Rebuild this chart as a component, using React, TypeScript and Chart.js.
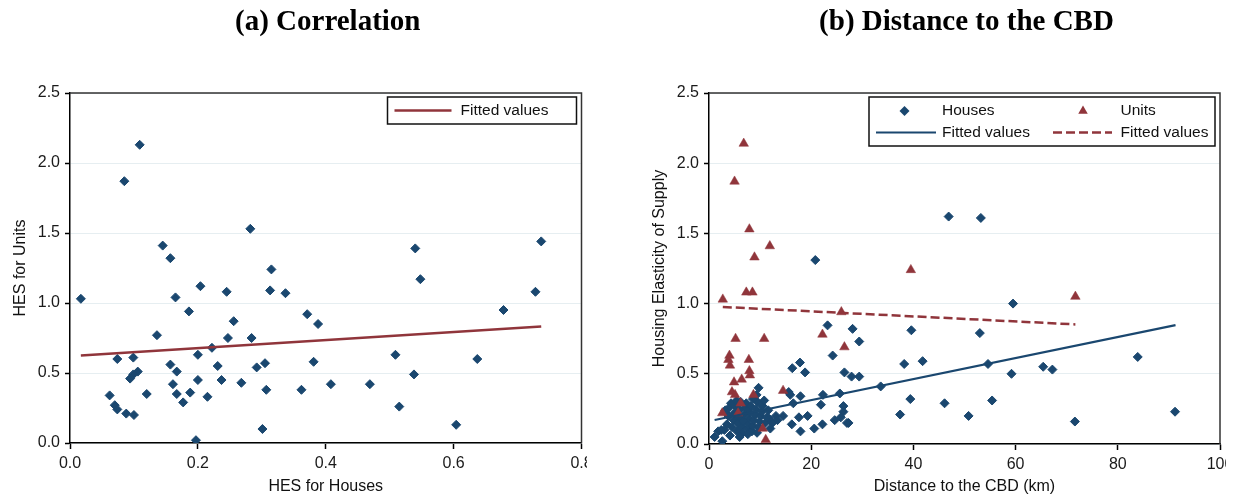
import React, { useEffect, useRef } from 'react';
import { Chart, registerables } from 'chart.js';

Chart.register(...registerables);

const NAVY = '#1a476f';
const MAROON = '#90353b';
const SANS = '"Liberation Sans", Arial, sans-serif';
const SERIF = '"Liberation Serif", "Times New Roman", serif';

// ---------- Panel (a): Correlation ----------
const corrTitle = '(a) Correlation';
const corrHousesHES = [0.017, 0.085, 0.109, 0.145, 0.157, 0.282, 0.315, 0.540, 0.737, 0.204, 0.165, 0.245, 0.186, 0.256, 0.136, 0.247, 0.284, 0.313, 0.337, 0.074, 0.099, 0.222, 0.200, 0.157, 0.167, 0.106, 0.099, 0.094, 0.231, 0.292, 0.305, 0.200, 0.237, 0.268, 0.161, 0.307, 0.062, 0.120, 0.167, 0.188, 0.215, 0.177, 0.070, 0.074, 0.088, 0.100, 0.301, 0.197, 0.362, 0.548, 0.728, 0.678, 0.371, 0.388, 0.381, 0.509, 0.637, 0.538, 0.408, 0.469, 0.515, 0.604];
const corrUnitsHES = [1.03, 1.87, 2.13, 1.41, 1.32, 1.53, 1.24, 1.39, 1.44, 1.12, 1.04, 1.08, 0.94, 0.87, 0.77, 0.75, 0.75, 1.09, 1.07, 0.60, 0.61, 0.68, 0.63, 0.56, 0.51, 0.51, 0.49, 0.46, 0.55, 0.54, 0.57, 0.45, 0.45, 0.43, 0.42, 0.38, 0.34, 0.35, 0.35, 0.36, 0.33, 0.29, 0.27, 0.24, 0.21, 0.20, 0.10, 0.02, 0.38, 1.17, 1.08, 0.95, 0.92, 0.85, 0.58, 0.63, 0.60, 0.49, 0.42, 0.42, 0.26, 0.13];
const corrFitX = [0.017, 0.737];
const corrFitY = [0.625, 0.832];
const corrXTicks = [0, 0.2, 0.4, 0.6, 0.8];
const corrXTickLabels = ['0.0', '0.2', '0.4', '0.6', '0.8'];
const corrXTitle = 'HES for Houses';
const corrYTitle = 'HES for Units';
const corrLegendLabel = 'Fitted values';

const hesYTicks = [0, 0.5, 1, 1.5, 2, 2.5];
const hesYTickLabels = ['0.0', '0.5', '1.0', '1.5', '2.0', '2.5'];

// ---------- Panel (b): Distance to the CBD ----------
const distTitle = '(b) Distance to the CBD';
const housesDist = [20.8, 46.9, 53.2, 59.5, 28.1, 29.4, 39.6, 53.0, 83.9, 38.2, 41.8, 54.6, 65.4, 67.2, 59.2, 27.9, 29.4, 33.6, 39.4, 46.1, 55.4, 37.4, 50.8, 71.6, 91.2, 27.3,
  23.2, 16.3, 17.8, 18.8, 24.2, 26.5, 9.7, 15.6, 15.9, 16.5, 17.9, 22.3, 25.6, 26.3, 26.3, 21.9, 19.3, 17.6, 14.5, 16.2, 17.9, 20.6, 22.2, 24.6, 25.8, 27.0, 13.1, 13.4, 12.4, 11.8, 1.1, 2.6, 1.8,
  3.0, 3.5, 3.8, 4.0, 4.3, 4.5, 4.8, 5.0, 5.2, 5.5, 5.6, 5.9, 6.0, 6.2, 6.4, 6.6, 6.8, 7.0, 7.1, 7.3, 7.5, 7.7, 7.9, 8.0, 8.2, 8.4, 8.6, 8.8, 9.0, 9.2, 9.5, 9.7, 9.9, 10.1, 10.3, 10.5, 10.8, 11.0, 11.3, 11.6, 12.0, 3.2, 2.4, 4.1, 6.0, 7.6, 9.4, 5.4, 8.6, 9.3];
const housesHES = [1.31, 1.62, 1.61, 1.00, 0.82, 0.73, 0.81, 0.79, 0.62, 0.57, 0.59, 0.57, 0.55, 0.53, 0.50, 0.48, 0.48, 0.41, 0.32, 0.29, 0.31, 0.21, 0.20, 0.16, 0.23, 0.15,
  0.845, 0.54, 0.58, 0.51, 0.63, 0.51, 0.40, 0.37, 0.35, 0.29, 0.34, 0.35, 0.36, 0.27, 0.23, 0.28, 0.20, 0.19, 0.20, 0.14, 0.09, 0.11, 0.14, 0.17, 0.19, 0.15, 0.20, 0.17, 0.15, 0.18, 0.05, 0.02, 0.09,
  0.10, 0.14, 0.20, 0.26, 0.29, 0.12, 0.17, 0.22, 0.27, 0.09, 0.15, 0.19, 0.24, 0.30, 0.12, 0.08, 0.16, 0.21, 0.26, 0.29, 0.11, 0.14, 0.18, 0.23, 0.27, 0.09, 0.13, 0.17, 0.21, 0.25, 0.30, 0.12, 0.16, 0.20, 0.23, 0.27, 0.31, 0.15, 0.19, 0.24, 0.11, 0.24, 0.10, 0.06, 0.05, 0.07, 0.08, 0.31, 0.32, 0.35];
const unitsDist = [6.8, 5.0, 7.9, 11.9, 8.9, 7.3, 8.5, 2.7, 25.9, 39.5, 71.7, 5.2, 10.8, 22.2, 26.5, 4.0, 3.8, 4.1, 7.8, 7.9, 8.0, 6.4, 4.9, 4.5, 5.1, 8.7, 14.5, 6.2, 2.6, 5.7, 10.5, 11.1];
const unitsHES = [2.14, 1.87, 1.53, 1.41, 1.33, 1.08, 1.08, 1.03, 0.94, 1.24, 1.05, 0.75, 0.75, 0.78, 0.69, 0.63, 0.60, 0.56, 0.60, 0.52, 0.49, 0.46, 0.44, 0.37, 0.35, 0.35, 0.38, 0.29, 0.22, 0.22, 0.11, 0.03];
const housesFitX = [1.1, 91.3];
const housesFitY = [0.171, 0.847];
const unitsFitX = [2.7, 71.7];
const unitsFitY = [0.976, 0.852];
const distXTicks = [0, 20, 40, 60, 80, 100];
const distXTickLabels = ['0', '20', '40', '60', '80', '100'];
const distXTitle = 'Distance to the CBD (km)';
const distYTitle = 'Housing Elasticity of Supply';
const distLegendLabels = ['Houses', 'Units', 'Fitted values', 'Fitted values'];

const pts = (xs: number[], ys: number[]) => xs.map((x, i) => ({ x, y: ys[i] }));

function xScale(min: number, max: number, ticks: number[], labels: string[], title: string, h: number) {
  return {
    type: 'linear',
    min,
    max,
    afterBuildTicks: (s: any) => { s.ticks = ticks.map((v) => ({ value: v })); },
    afterFit: (s: any) => { s.height = h; s.paddingLeft = 0; s.paddingRight = 0; },
    ticks: {
      callback: (_v: any, i: number) => labels[i],
      font: { family: SANS, size: 16 },
      color: '#1a1a1a',
      padding: 5,
      maxRotation: 0,
      autoSkip: false,
    },
    grid: { drawOnChartArea: false, tickLength: 6, tickColor: '#000', tickWidth: 1.5, color: 'rgba(0,0,0,0)' },
    border: { display: true, color: '#000', width: 1.5 },
    title: { display: true, text: title, font: { family: SANS, size: 16 }, color: '#111', padding: { top: 0, bottom: 4 } },
  };
}

function yScale(title: string, w: number, titlePad: number) {
  return {
    type: 'linear',
    min: 0,
    max: 2.5,
    afterBuildTicks: (s: any) => { s.ticks = hesYTicks.map((v) => ({ value: v })); },
    afterFit: (s: any) => { s.width = w; s.paddingTop = 0; s.paddingBottom = 0; },
    ticks: {
      callback: (_v: any, i: number) => hesYTickLabels[i],
      font: { family: SANS, size: 16 },
      color: '#1a1a1a',
      padding: 5,
      autoSkip: false,
    },
    grid: { drawOnChartArea: true, tickLength: 5, tickColor: '#000', tickWidth: 1.5, color: '#e6eef1', lineWidth: 1 },
    border: { display: true, color: '#000', width: 1.5 },
    title: { display: true, text: title, font: { family: SANS, size: 16 }, color: '#111', padding: { top: titlePad, bottom: 0 } },
  };
}

function diamond(ctx: CanvasRenderingContext2D, x: number, y: number, r: number) {
  ctx.beginPath();
  ctx.moveTo(x - r, y);
  ctx.lineTo(x, y - r);
  ctx.lineTo(x + r, y);
  ctx.lineTo(x, y + r);
  ctx.closePath();
  ctx.fill();
}
function triangle(ctx: CanvasRenderingContext2D, x: number, y: number, r: number) {
  ctx.beginPath();
  ctx.moveTo(x, y - r);
  ctx.lineTo(x + r * 0.866, y + r * 0.5);
  ctx.lineTo(x - r * 0.866, y + r * 0.5);
  ctx.closePath();
  ctx.fill();
}

function decoPlugin(title: string, drawLegend: (ctx: CanvasRenderingContext2D, ca: any) => void) {
  return {
    id: 'deco',
    afterDraw(chart: any) {
      const ctx = chart.ctx as CanvasRenderingContext2D;
      const ca = chart.chartArea;
      ctx.save();
      // top & right frame
      ctx.strokeStyle = '#333';
      ctx.lineWidth = 1.5;
      ctx.beginPath();
      ctx.moveTo(ca.left, ca.top);
      ctx.lineTo(ca.right, ca.top);
      ctx.lineTo(ca.right, ca.bottom);
      ctx.stroke();
      // title
      ctx.fillStyle = '#000';
      ctx.font = `bold 29px ${SERIF}`;
      ctx.textAlign = 'center';
      ctx.textBaseline = 'middle';
      ctx.fillText(title, (ca.left + ca.right) / 2 + 2, 23);
      drawLegend(ctx, ca);
      ctx.restore();
    },
  };
}

function legendA(ctx: CanvasRenderingContext2D, ca: any) {
  const right = ca.right - 5;
  const left = right - 189;
  const top = ca.top + 4;
  const h = 27;
  ctx.fillStyle = '#fff';
  ctx.fillRect(left, top, right - left, h);
  ctx.strokeStyle = '#111';
  ctx.lineWidth = 1.5;
  ctx.strokeRect(left, top, right - left, h);
  const cy = top + h / 2;
  ctx.strokeStyle = MAROON;
  ctx.lineWidth = 2.5;
  ctx.beginPath();
  ctx.moveTo(left + 7, cy);
  ctx.lineTo(left + 64, cy);
  ctx.stroke();
  ctx.fillStyle = '#111';
  ctx.font = `15.5px ${SANS}`;
  ctx.textAlign = 'left';
  ctx.textBaseline = 'middle';
  ctx.fillText(corrLegendLabel, left + 73, cy);
}

function legendB(ctx: CanvasRenderingContext2D, ca: any) {
  const right = ca.right - 5;
  const left = right - 346;
  const top = ca.top + 4;
  const h = 49;
  ctx.fillStyle = '#fff';
  ctx.fillRect(left, top, right - left, h);
  ctx.strokeStyle = '#111';
  ctx.lineWidth = 1.5;
  ctx.strokeRect(left, top, right - left, h);
  const y1 = top + 14;
  const y2 = top + 35.5;
  ctx.fillStyle = NAVY;
  diamond(ctx, left + 35.5, y1, 5);
  ctx.fillStyle = MAROON;
  triangle(ctx, left + 214, y1, 5.5);
  ctx.strokeStyle = NAVY;
  ctx.lineWidth = 2.2;
  ctx.beginPath();
  ctx.moveTo(left + 7, y2);
  ctx.lineTo(left + 67, y2);
  ctx.stroke();
  ctx.strokeStyle = MAROON;
  ctx.lineWidth = 2.5;
  ctx.setLineDash([9, 4]);
  ctx.beginPath();
  ctx.moveTo(left + 184, y2);
  ctx.lineTo(left + 243, y2);
  ctx.stroke();
  ctx.setLineDash([]);
  ctx.fillStyle = '#111';
  ctx.font = `15.5px ${SANS}`;
  ctx.textAlign = 'left';
  ctx.textBaseline = 'middle';
  ctx.fillText(distLegendLabels[0], left + 73, y1);
  ctx.fillText(distLegendLabels[1], left + 251.5, y1);
  ctx.fillText(distLegendLabels[2], left + 73, y2);
  ctx.fillText(distLegendLabels[3], left + 251.5, y2);
}

export default function App() {
  const refA = useRef<HTMLCanvasElement>(null);
  const refB = useRef<HTMLCanvasElement>(null);

  useEffect(() => {
    const chartA = new Chart(refA.current as HTMLCanvasElement, {
      type: 'scatter',
      data: {
        datasets: [
          {
            type: 'line',
            label: corrLegendLabel,
            data: pts(corrFitX, corrFitY),
            borderColor: MAROON,
            borderWidth: 2.6,
            pointRadius: 0,
            fill: false,
            order: 0,
          } as any,
          {
            label: 'Units vs Houses',
            data: pts(corrHousesHES, corrUnitsHES),
            pointStyle: 'rectRot',
            pointRadius: 4.5,
            backgroundColor: NAVY,
            borderColor: NAVY,
            borderWidth: 1,
            order: 1,
          },
        ],
      },
      options: {
        animation: false,
        responsive: false,
        events: [],
        layout: { padding: { left: 0, right: 4, top: 93, bottom: 0 } },
        plugins: { legend: { display: false }, tooltip: { enabled: false }, title: { display: false } },
        scales: {
          x: xScale(0, 0.8, corrXTicks, corrXTickLabels, corrXTitle, 57) as any,
          y: yScale(corrYTitle, 70, 11) as any,
        },
      },
      plugins: [decoPlugin(corrTitle, legendA)],
    });

    const chartB = new Chart(refB.current as HTMLCanvasElement, {
      type: 'scatter',
      data: {
        datasets: [
          {
            type: 'line',
            label: 'Fitted values (houses)',
            data: pts(housesFitX, housesFitY),
            borderColor: NAVY,
            borderWidth: 2.2,
            pointRadius: 0,
            fill: false,
            order: 0,
          } as any,
          {
            type: 'line',
            label: 'Fitted values (units)',
            data: pts(unitsFitX, unitsFitY),
            borderColor: MAROON,
            borderWidth: 2.5,
            borderDash: [9, 4],
            pointRadius: 0,
            fill: false,
            order: 0,
          } as any,
          {
            label: 'Units',
            data: pts(unitsDist, unitsHES),
            pointStyle: 'triangle',
            pointRadius: 5.5,
            backgroundColor: MAROON,
            borderColor: MAROON,
            borderWidth: 0.5,
            order: 1,
          },
          {
            label: 'Houses',
            data: pts(housesDist, housesHES),
            pointStyle: 'rectRot',
            pointRadius: 4.5,
            backgroundColor: NAVY,
            borderColor: NAVY,
            borderWidth: 1,
            order: 2,
          },
        ],
      },
      options: {
        animation: false,
        responsive: false,
        events: [],
        layout: { padding: { left: 0, right: 2, top: 93, bottom: 0 } },
        plugins: { legend: { display: false }, tooltip: { enabled: false }, title: { display: false } },
        scales: {
          x: xScale(0, 100, distXTicks, distXTickLabels, distXTitle, 56) as any,
          y: yScale(distYTitle, 69, 9.5) as any,
        },
      },
      plugins: [decoPlugin(distTitle, legendB)],
    });

    return () => {
      chartA.destroy();
      chartB.destroy();
    };
  }, []);

  return (
    <div style={{ position: 'absolute', left: 0, top: 0, width: 1235, height: 500, background: '#fff', overflow: 'hidden' }}>
      <canvas ref={refA} width={587} height={500} style={{ position: 'absolute', left: 0, top: 0 }} />
      <canvas ref={refB} width={586} height={500} style={{ position: 'absolute', left: 640, top: 0 }} />
    </div>
  );
}
